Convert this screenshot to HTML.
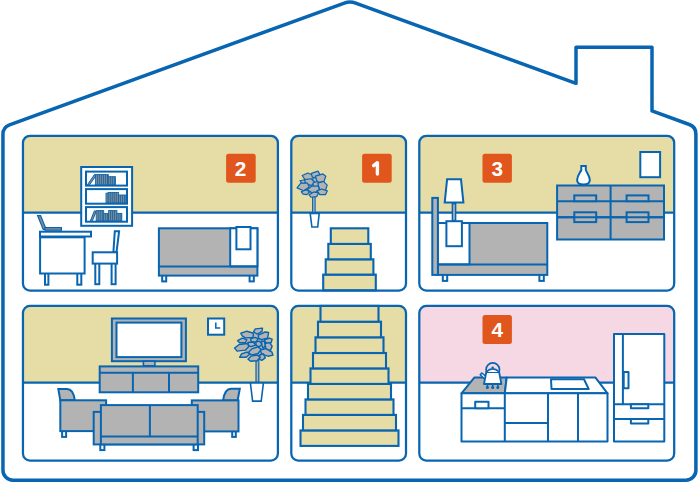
<!DOCTYPE html>
<html><head><meta charset="utf-8">
<style>
html,body{margin:0;padding:0;background:#fff;width:700px;height:482px;overflow:hidden}
svg{display:block}
text{font-family:"Liberation Sans",sans-serif;font-weight:bold;fill:#fff}
</style></head>
<body>
<svg width="700" height="482" viewBox="0 0 700 482">
<defs>
<clipPath id="c1"><rect x="22.95" y="135.8" width="254.95" height="154.8" rx="7"/></clipPath>
<clipPath id="c2"><rect x="291.3" y="135.8" width="114.7" height="154.8" rx="7"/></clipPath>
<clipPath id="c3"><rect x="419.3" y="135.8" width="254.9" height="154.8" rx="7"/></clipPath>
<clipPath id="c4"><rect x="22.95" y="305.9" width="254.95" height="154.6" rx="7"/></clipPath>
<clipPath id="c5"><rect x="291.3" y="305.9" width="114.7" height="154.6" rx="7"/></clipPath>
<clipPath id="c6"><rect x="419.3" y="305.9" width="254.9" height="154.6" rx="7"/></clipPath>

</defs>

<!-- house outline -->
<path d="M2.95,134.3 Q2.95,127.3 9.53,124.9 L344.36,3.05 Q350,1.0 355.64,3.05 L576,83.3 L576,47.2 L652,47.2 L652,110.9 L689.32,124.5 Q695.9,126.9 695.9,133.9 L695.9,470.2 A10,10 0 0 1 685.9,480.2 L12.95,480.2 A10,10 0 0 1 2.95,470.2 Z" fill="none" stroke="#0865b1" stroke-width="3.5" stroke-linejoin="round"/>

<!-- room backgrounds -->
<g clip-path="url(#c1)"><rect x="0" y="0" width="700" height="212.7" fill="#e5dda5"/></g>
<g clip-path="url(#c2)"><rect x="0" y="0" width="700" height="212.7" fill="#e5dda5"/></g>
<g clip-path="url(#c3)"><rect x="0" y="0" width="700" height="212.7" fill="#e5dda5"/></g>
<g clip-path="url(#c4)"><rect x="0" y="0" width="700" height="382.6" fill="#e5dda5"/></g>
<g clip-path="url(#c5)"><rect x="0" y="0" width="700" height="382.6" fill="#e5dda5"/></g>
<g clip-path="url(#c6)"><rect x="0" y="0" width="700" height="382.6" fill="#f6d8e4"/></g>

<g stroke="#0865b1" stroke-width="2.2" fill="none">
<line x1="22.95" y1="212.7" x2="277.9" y2="212.7"/>
<line x1="291.3" y1="212.7" x2="406" y2="212.7"/>
<line x1="419.3" y1="212.7" x2="674.2" y2="212.7"/>
<line x1="22.95" y1="382.6" x2="277.9" y2="382.6"/>
<line x1="291.3" y1="382.6" x2="406" y2="382.6"/>
<line x1="419.3" y1="382.6" x2="674.2" y2="382.6"/>
</g>

<!-- FURNITURE -->
<!-- room 2: bookshelf, desk, chair, bed -->
<g stroke="#0865b1" stroke-width="2" fill="#fff">
<rect x="81.2" y="167" width="50.9" height="58.8"/>
<rect x="86" y="171.6" width="41" height="14" />
<rect x="86" y="189.1" width="41" height="14.6"/>
<rect x="86" y="207.1" width="41" height="14.6"/>
</g>
<g stroke="#0865b1" stroke-width="0.9" fill="#8c8c8c">
<path d="M87.4,184.8 L94.4,174.6 L96.2,175.4 L89.6,184.8 Z" stroke-width="1"/>
<rect x="95.4" y="174.6" width="12.9" height="10.2"/>
<path d="M97.4,174.6 V184.8"/>
<path d="M99.4,174.6 V184.8"/>
<path d="M101.4,174.6 V184.8"/>
<path d="M103.4,174.6 V184.8"/>
<path d="M105.4,174.6 V184.8"/>
<path d="M107.4,174.6 V184.8"/>
<rect x="108.3" y="176.7" width="7.1" height="8.1"/>
<path d="M110.3,176.7 V184.8"/>
<path d="M112.3,176.7 V184.8"/>
<path d="M114.3,176.7 V184.8"/>
<rect x="106" y="193.2" width="2.2" height="9.6"/>
<rect x="108.2" y="192.4" width="10.2" height="10.4"/>
<path d="M110.2,192.4 V202.8"/>
<path d="M112.2,192.4 V202.8"/>
<path d="M114.2,192.4 V202.8"/>
<path d="M116.2,192.4 V202.8"/>
<rect x="118.4" y="195" width="7.6" height="7.8"/>
<path d="M120.4,195 V202.8"/>
<path d="M122.4,195 V202.8"/>
<path d="M124.4,195 V202.8"/>
<path d="M90.4,220.8 L94.4,210.8 L96.2,211.4 L92.4,220.8 Z" stroke-width="1"/>
<rect x="96.2" y="210.6" width="7.5" height="10.2"/>
<path d="M98.2,210.6 V220.8"/>
<path d="M100.2,210.6 V220.8"/>
<path d="M102.2,210.6 V220.8"/>
<rect x="103.7" y="213.6" width="4.9" height="7.2"/>
<path d="M105.7,213.6 V220.8"/>
<path d="M107.7,213.6 V220.8"/>
<rect x="108.6" y="210.6" width="8.3" height="10.2"/>
<path d="M110.6,210.6 V220.8"/>
<path d="M112.6,210.6 V220.8"/>
<path d="M114.6,210.6 V220.8"/>
<rect x="116.9" y="213.4" width="4.9" height="7.4"/>
<path d="M118.9,213.4 V220.8"/>
<path d="M120.9,213.4 V220.8"/>
</g>
<!-- laptop -->
<g stroke="#0865b1" stroke-width="1.2" fill="#8c8c8c">
<path d="M37.6,215.6 L40.6,215.6 L46.2,229.4 L43.2,229.4 Z"/>
<rect x="45" y="227.6" width="16.4" height="2.6"/>
</g>
<g stroke="#0865b1" stroke-width="2" fill="#fff">
<!-- desk -->
<rect x="45" y="272" width="3.4" height="12.7"/>
<rect x="77.3" y="272" width="4" height="12.7"/>
<rect x="40.1" y="237.3" width="44.5" height="36.2"/>
<rect x="40" y="231.7" width="51" height="4.8"/>
<!-- chair -->
<rect x="95.3" y="263" width="4" height="21.2"/>
<rect x="111.6" y="263" width="4" height="21.2"/>
<path d="M114.8,231.2 L119.1,231.2 L116.5,252.3 L113.4,252.3 Z"/>
<rect x="92.7" y="252.3" width="24.4" height="11.3"/>
<!-- bed -->
<rect x="162.2" y="274.6" width="4" height="6.8"/>
<rect x="249.6" y="274.6" width="4.2" height="6.8"/>
<rect x="158.9" y="228.3" width="98.5" height="47.3" fill="#b3b3b3"/>
<rect x="230.2" y="228.3" width="27.2" height="38.1"/>
<line x1="158.9" y1="266.4" x2="257.4" y2="266.4"/>
<rect x="236.4" y="227" width="14.1" height="22.3"/>
</g>

<!-- room 1: plant + stairs -->
<g stroke="#0865b1" stroke-width="1.4">
<rect x="312.6" y="194" width="2.5" height="18.3" fill="#b3b3b3" stroke-width="1.1"/>
<path d="M310.2,213.5 L319.2,213.5 L317.7,227 L311.9,227 Z" fill="#fff" stroke-width="1.6"/>
</g>
<g id="p1" fill="#b3b3b3" stroke="#0865b1" stroke-width="1.2" stroke-linejoin="round">
<path d="M305.52,176.01 L312.49,175.43 L316.56,174.27 L321.21,176.6 L322.95,180.66 L324.11,185.31 L323.53,190.54 L321.21,192.87 L317.14,194.03 L312.49,194.84 L308.42,193.45 L304.36,191.7 L302.03,187.64 L301.45,184.15 L303.2,180.66 Z" stroke="none"/>
<path d="M302.18,175.53 L307.85,173.07 L313.51,175.53 L312.57,180.25 L305.96,181.19 Z"/>
<path d="M311.33,173.38 L317.94,171.12 L319.83,174.33 L317.0,178.11 L312.28,177.16 Z"/>
<path d="M315.39,176.19 L322.94,173.92 L325.77,176.19 L323.89,181.85 L317.28,182.23 Z"/>
<path d="M299.9,180.73 L304.62,179.78 L306.51,182.62 L302.73,184.13 Z"/>
<path d="M304.67,179.7 L311.28,178.76 L315.05,182.54 L311.28,185.37 L305.61,184.05 Z"/>
<path d="M313.09,182.78 L317.81,181.46 L319.7,184.67 L316.87,187.13 L313.09,185.99 Z"/>
<path d="M297.01,187.86 L300.79,183.14 L307.4,183.14 L309.29,186.92 L303.62,190.7 Z"/>
<path d="M317.74,183.23 L323.41,181.34 L327.18,185.12 L325.29,190.78 L319.63,189.84 Z"/>
<path d="M307.09,189.87 L311.81,186.09 L318.42,186.09 L319.37,189.87 L313.7,193.65 Z"/>
<path d="M301.21,191.72 L305.93,189.83 L309.71,191.72 L306.88,194.55 L303.1,194.17 Z"/>
<path d="M316.93,190.89 L321.65,189.0 L327.31,190.89 L325.43,194.66 L319.76,194.66 Z"/>
<path d="M309.07,194.8 L313.79,191.96 L318.51,192.91 L316.62,196.69 L310.96,197.25 Z"/>
</g>
<g stroke="#0865b1" stroke-width="2.1" fill="#e5dda5">
<rect x="323.2" y="274.6" width="52.6" height="15.7"/>
<rect x="325.7" y="259.3" width="47.7" height="15.3"/>
<rect x="328.3" y="243.9" width="42.5" height="15.4"/>
<rect x="330.8" y="228.3" width="37.5" height="15.6"/>
</g>

<!-- room 3: bedroom -->
<g stroke="#0865b1" stroke-width="2" fill="#fff">
<rect x="640.3" y="152" width="19.8" height="25.2"/>
<path d="M581.3,166 L585.8,166 L585.8,170 C587,173 589.8,176 589.8,180 C589.8,183 587,184.5 583.5,184.5 C580,184.5 577.1,183 577.1,180 C577.1,176 580,173 581.3,170 Z"/>
<rect x="557.1" y="185.5" width="106.9" height="54" fill="#b3b3b3"/>
<path d="M610.6,185.5 V239.5 M557.1,201.2 H664 M557.1,217.3 H664" fill="none"/>
<rect x="574.3" y="195.4" width="21.9" height="5.8" fill="#b3b3b3"/>
<rect x="626.6" y="195.4" width="21.9" height="5.8" fill="#b3b3b3"/>
<rect x="574.3" y="212.3" width="21.9" height="9.8" fill="#b3b3b3"/>
<rect x="626.6" y="212.3" width="21.9" height="9.8" fill="#b3b3b3"/>
<path d="M557.1,217.3 H664" fill="none"/>
<!-- lamp -->
<path d="M447.1,179.3 L461,179.3 L463.4,202.6 L444.7,202.6 Z"/>
<rect x="452.4" y="203.6" width="3.2" height="17" fill="#b3b3b3" stroke-width="1.5"/>
<!-- bed -->
<rect x="442.8" y="274" width="4.4" height="6.9"/>
<rect x="539.4" y="274" width="4.4" height="6.9"/>
<rect x="437.7" y="223" width="109.6" height="51.9" fill="#b3b3b3"/>
<rect x="437.7" y="223" width="31.8" height="41.4"/>
<path d="M437.7,264.4 H547.3" fill="none"/>
<rect x="432.3" y="197.9" width="5.6" height="77" fill="#b3b3b3"/>
<rect x="446.4" y="221.2" width="15.5" height="25"/>
</g>

<!-- living room -->
<g stroke="#0865b1" stroke-width="2" fill="#fff">
<rect x="208" y="318.5" width="16.2" height="16.2"/>
<path d="M215.8,322.4 V327.9 H220.2" fill="none" stroke-width="1.5"/>
<rect x="111.9" y="318.5" width="74" height="42.7" fill="#b3b3b3"/>
<rect x="116.5" y="322.6" width="64.9" height="34.5"/>
<rect x="143.4" y="361.2" width="11.5" height="4.6" fill="#b3b3b3" stroke-width="1.6"/>
<rect x="99.7" y="366.4" width="98.5" height="25.9" fill="#b3b3b3"/>
<path d="M99.7,372.8 H198.2 M132.9,372.8 V392.3 M169,372.8 V392.3" fill="none"/>
<!-- armchairs -->
<rect x="62.1" y="430" width="4" height="6.9"/>
<path d="M58.3,388.9 L67,388.9 Q73.5,389 74.8,400.3 L60.3,400.3 Z" fill="#b3b3b3"/>
<rect x="60.3" y="400.3" width="45.8" height="30.8" fill="#b3b3b3"/>
<rect x="232.2" y="430" width="3.6" height="6.9"/>
<path d="M239.8,388.7 L231,388.7 Q224.5,388.8 223.1,400.4 L237.6,400.4 Z" fill="#b3b3b3"/>
<rect x="191.8" y="400.4" width="46.7" height="31" fill="#b3b3b3"/>
<!-- sofa -->
<rect x="100.3" y="443.5" width="4.1" height="6.6"/>
<rect x="193.6" y="443.5" width="4.4" height="6.6"/>
<rect x="93.7" y="411.9" width="110.5" height="32.5" fill="#b3b3b3"/>
<rect x="100.9" y="405.1" width="96.8" height="39.3" fill="#b3b3b3"/>
<path d="M149.9,405.1 V436.5 M100.9,436.5 H197.7" fill="none"/>
</g>
<g stroke="#0865b1" stroke-width="1.4">
<rect x="256" y="358" width="2.8" height="24" fill="#b3b3b3" stroke-width="1.2"/>
<path d="M250.4,383 L263.4,383 L261.2,401.1 L252.6,401.1 Z" fill="#fff" stroke-width="1.6"/>
</g>
<g fill="#b3b3b3" stroke="#0865b1" stroke-width="1.4" stroke-linejoin="round">
<path d="M244.62,335.54 L254.46,334.18 L254.86,332.5 L260.3,331.94 L260.62,334.82 L265.02,335.54 L264.7,339.3 L268.06,340.26 L267.74,344.74 L268.78,352.5 L266.38,353.86 L262.3,356.98 L256.86,357.62 L250.78,357.62 L249.74,355.22 L243.58,354.9 L244.62,350.82 L239.5,348.42 L240.54,345.06 L244.62,342.66 L241.58,341.62 L244.62,339.3 Z" stroke="none"/>
<path d="M240.74,333.25 L246.87,331.21 L253.5,333.25 L252.99,337.33 L245.34,337.84 L242.27,335.8 Z"/>
<path d="M253.51,331.98 L255.34,328.92 L262.49,328.11 L261.98,331.47 L257.38,334.02 Z"/>
<path d="M258.42,335.06 L265.05,332.0 L268.62,332.51 L267.6,338.12 L260.97,339.65 L258.42,338.12 Z"/>
<path d="M237.6,340.71 L242.19,338.16 L246.78,339.69 L245.25,342.76 L239.64,342.76 Z"/>
<path d="M250.5,338.88 L255.1,337.35 L258.16,338.88 L256.12,341.94 L251.52,341.94 Z"/>
<path d="M264.47,339.73 L269.57,338.2 L272.12,339.22 L271.1,342.79 L266.0,343.3 Z"/>
<path d="M248.04,342.55 L253.14,342.04 L255.69,345.1 L251.1,346.63 L248.55,345.61 Z"/>
<path d="M255.78,342.13 L259.35,341.11 L261.9,344.17 L259.35,346.72 L256.29,345.7 Z"/>
<path d="M261.46,341.02 L264.52,341.53 L265.54,345.61 L262.99,348.16 L261.97,345.61 Z"/>
<path d="M264.98,343.67 L269.57,342.65 L272.12,346.22 L270.59,350.31 L266.0,349.29 Z"/>
<path d="M234.58,348.09 L239.17,344.52 L247.33,343.49 L248.87,346.56 L245.29,350.13 L237.13,351.15 Z"/>
<path d="M239.62,357.28 L241.66,353.71 L247.27,352.18 L249.82,354.22 L246.25,357.28 Z"/>
<path d="M260.25,350.07 L265.86,348.54 L271.98,352.11 L273.0,355.17 L267.9,356.19 L261.78,354.15 Z"/>
<path d="M248.34,352.45 L251.91,348.88 L258.03,346.84 L261.1,349.39 L258.03,353.47 L251.91,355.0 Z"/>
<path d="M259.19,355.27 L263.28,353.74 L265.32,357.82 L261.74,360.37 L259.7,359.35 Z"/>
<path d="M248.0,359.17 L251.06,356.11 L257.18,355.09 L260.25,357.13 L257.18,360.7 L250.55,361.21 Z"/>
</g>

<!-- stairs bottom middle -->
<g stroke="#0865b1" stroke-width="2.1" fill="#e5dda5">
<rect x="300.5" y="430.4" width="98" height="15.5"/>
<rect x="303" y="414.9" width="93" height="15.5"/>
<rect x="305.5" y="399.4" width="88" height="15.5"/>
<rect x="308" y="383.9" width="83" height="15.5"/>
<rect x="310.5" y="368.4" width="78" height="15.5"/>
<rect x="313" y="353" width="73" height="15.4"/>
<rect x="315.5" y="337.3" width="68" height="15.7"/>
<rect x="318" y="321.7" width="63" height="15.6"/>
<rect x="320.5" y="305.9" width="58" height="15.8"/>
</g>

<!-- kitchen -->
<g stroke="#0865b1" stroke-width="2" fill="#fff" stroke-linejoin="round">
<!-- fridge -->
<rect x="614" y="334" width="50.3" height="107.6"/>
<path d="M622.9,334 V404.2 M614,404.2 H664.3 M614,419.1 H664.3" fill="none"/>
<rect x="623.7" y="372.1" width="4.8" height="16.2"/>
<rect x="630.9" y="404.2" width="17.4" height="4"/>
<rect x="630.9" y="419.1" width="17.4" height="4.5"/>
<!-- counter -->
<path d="M461.5,393.3 L474.5,377.4 L506.7,377.4 L504.8,393.3 Z" fill="#b3b3b3"/>
<path d="M504.8,393.3 L506.7,377.4 L595.3,377.4 L607.5,393.3 Z"/>
<rect x="461.5" y="393.3" width="146" height="48.2"/>
<path d="M504.8,393.3 V441.5 M548,393.3 V441.5 M578,393.3 V441.5 M461.5,408.2 H504.8 M504.8,422.9 H548" fill="none"/>
<rect x="475.2" y="401.7" width="13.3" height="6.5"/>
<path d="M551,379.3 L584,379.3 L588.7,389 L551.5,389 Z"/>
<!-- kettle -->
<circle cx="492.8" cy="369.6" r="6.7" fill="none" stroke-width="1.7"/>
<path d="M487.4,384 V387.4 M492.7,384 V387.4 M497.8,384 V387.4" fill="none" stroke-width="1.6"/>
<circle cx="487.4" cy="387.6" r="1.5" fill="#0865b1" stroke="none"/>
<circle cx="492.7" cy="387.6" r="1.5" fill="#0865b1" stroke="none"/>
<circle cx="497.8" cy="387.6" r="1.5" fill="#0865b1" stroke="none"/>
<path d="M486.4,380.8 L480.2,374.8 L481.8,373 L487.2,377.4" stroke-width="1.5"/>
<path d="M486.3,372 L499.1,372 L501.4,384 L484,384 Z" stroke-width="1.8"/>
<path d="M486.2,372 Q492.7,365.8 499.2,372" stroke-width="1.6"/>
<circle cx="492.7" cy="367.6" r="1.2" fill="#0865b1" stroke="none"/>
</g>

<!-- room borders -->
<g stroke="#0865b1" stroke-width="2.25" fill="none">
<rect x="22.95" y="135.8" width="254.95" height="154.8" rx="7"/>
<rect x="291.3" y="135.8" width="114.7" height="154.8" rx="7"/>
<rect x="419.3" y="135.8" width="254.9" height="154.8" rx="7"/>
<rect x="22.95" y="305.9" width="254.95" height="154.6" rx="7"/>
<rect x="291.3" y="305.9" width="114.7" height="154.6" rx="7"/>
<rect x="419.3" y="305.9" width="254.9" height="154.6" rx="7"/>
</g>

<!-- badges -->
<g fill="#e0561c">
<rect x="226.1" y="153.7" width="29.6" height="29" rx="2.5"/>
<rect x="362.1" y="153.7" width="29.6" height="29" rx="2.5"/>
<rect x="482.5" y="153.7" width="29.4" height="29" rx="2.5"/>
<rect x="482.5" y="315" width="29.4" height="29" rx="2.5"/>
</g>
<path d="M373.6,165.6 L377.4,162.7 V174.1" fill="none" stroke="#fff" stroke-width="3.4" stroke-linecap="round" stroke-linejoin="round"/>
<g font-size="20.8" text-anchor="middle">
<text x="240.5" y="175.7">2</text>
<text x="497.2" y="175.7">3</text>
<text x="497.2" y="336.8">4</text>
</g>
</svg>
</body></html>
